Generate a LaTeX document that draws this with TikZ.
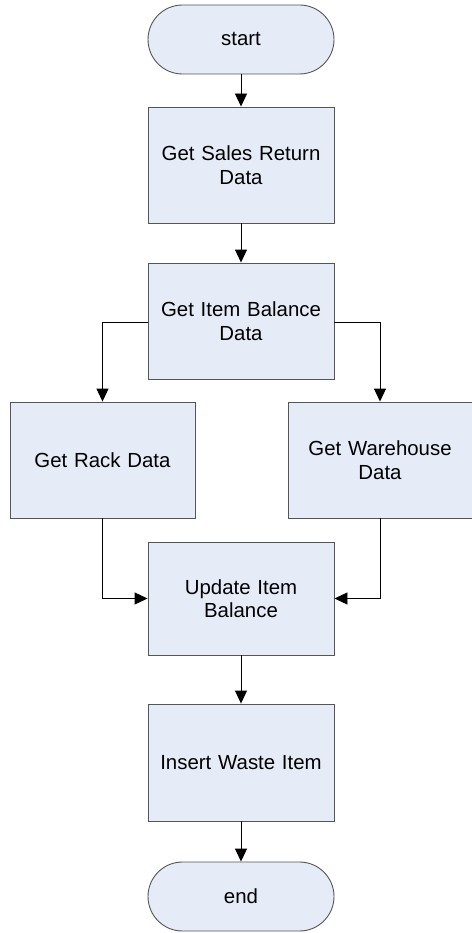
\documentclass[tikz,border=0pt]{standalone}
\usepackage{fontspec}
\setmainfont{Liberation Sans}
\usetikzlibrary{arrows.meta}
\definecolor{boxfill}{HTML}{E6ECF7}
\definecolor{boxline}{HTML}{555555}
\begin{document}
\begin{tikzpicture}[x=1pt,y=-1pt,
  font=\fontsize{20.4}{23.5}\selectfont,
  proc/.style={draw=boxline, line width=0.9pt, fill=boxfill, rectangle,
    minimum width=186pt, minimum height=116pt, inner sep=2pt,
    align=center, text width=170pt},
  term/.style={draw=boxline, line width=0.9pt, fill=boxfill, rectangle,
    rounded corners=34.5pt, minimum width=186pt, minimum height=69pt,
    align=center},
  flow/.style={draw=black, line width=0.9pt, -{Triangle[length=13pt,width=12pt]}}]
\useasboundingbox (0,0) rectangle (471,933);
\fill[white] (0,0) rectangle (471,933);

\node[term] (start) at (241,39.5) {start};
\node[proc] (sales) at (241,165) {Get Sales Return\\Data};
\node[proc] (bal) at (241,321) {Get Item Balance\\Data};
\node[proc, minimum width=185pt] (rack) at (102.5,460) {Get Rack Data};
\node[proc, minimum width=184pt] (wh) at (380,460) {Get Warehouse\\Data};
\node[proc, minimum height=113pt] (upd) at (241,598.5) {Update Item\\Balance};
\node[proc, minimum height=117pt] (ins) at (241,762.5) {Insert Waste Item};
\node[term] (end) at (241,896.5) {end};

\draw[flow] (start) -- (sales);
\draw[flow] (sales) -- (bal);
\draw[flow] (bal.west |- 0,322) -| (rack.north);
\draw[flow] (bal.east |- 0,322) -| (wh.north);
\draw[flow] (rack.south) |- (upd.west);
\draw[flow] (wh.south) |- (upd.east);
\draw[flow] (upd) -- (ins);
\draw[flow] (ins) -- (end);
\end{tikzpicture}
\end{document}
